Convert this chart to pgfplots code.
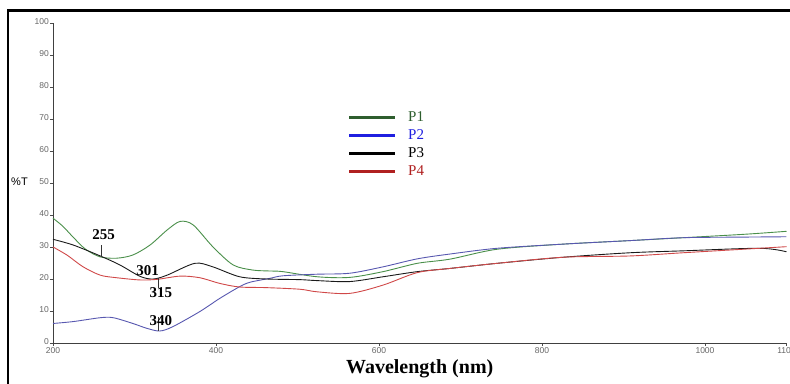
\documentclass[border=0pt]{standalone}
\usepackage{fontspec}
\setmainfont{Liberation Serif}
\newfontfamily\arialfont{Liberation Sans}
\usepackage{pgfplots}
\pgfplotsset{compat=1.18}
\definecolor{pone}{HTML}{4A8F4A}
\definecolor{ptwo}{HTML}{5858B0}
\definecolor{pthree}{HTML}{1A1A1A}
\definecolor{pfour}{HTML}{D04848}
\definecolor{lone}{HTML}{2E5E2E}
\definecolor{ltwo}{HTML}{1F1FE0}
\definecolor{lthree}{HTML}{000000}
\definecolor{lfour}{HTML}{B02020}
\begin{document}
\begin{tikzpicture}[x=1pt,y=1pt]
\useasboundingbox (0,0) rectangle (790,383);
\begin{axis}[
  at={(53pt,40pt)}, anchor=south west,
  scale only axis, width=733.5pt, height=320pt,
  xmin=200, xmax=1100, ymin=0, ymax=100,
  axis x line=bottom, axis y line=left,
  axis line style={-, draw=black!75, line width=0.8pt},
  xtick={200,400,600,800,1000,1100},
  ytick={0,10,...,100},
  tick align=outside, major tick length=3pt,
  tick style={draw=black!70, line width=0.6pt},
  /pgf/number format/assume math mode=true,
  /pgf/number format/1000 sep={},
  ticklabel style={font=\arialfont\fontsize{8.5}{9}\selectfont, text=black!60},
  yticklabel style={inner sep=1pt, yshift=1pt},
  xticklabel style={inner sep=1pt},
  xlabel={\bfseries Wavelength (nm)},
  xlabel style={font=\fontsize{20}{22}\selectfont, at={(axis description cs:0.5,-0.081)}, anchor=center},
  ylabel={\%T},
  ylabel style={font=\arialfont\fontsize{11}{12}\selectfont, rotate=-90, at={(axis description cs:-0.0457,0.503)}, anchor=center},
  clip=false,
  legend image code/.code={\draw[#1, line width=2.8pt] (0pt,0pt) -- (46pt,0pt); \path (57pt,0pt);},
  legend style={draw=none, fill=none, font=\fontsize{15}{17}\selectfont,
    at={(axis description cs:0.402,0.727)}, anchor=north west,
    row sep=3.5pt, inner sep=0pt, nodes={inner sep=1.5pt, anchor=west}},
  legend cell align=left,
]
\addlegendimage{lone}\addlegendentry{\textcolor{lone}{P1}}
\addlegendimage{ltwo}\addlegendentry{\textcolor{ltwo}{P2}}
\addlegendimage{lthree}\addlegendentry{\textcolor{lthree}{P3}}
\addlegendimage{lfour}\addlegendentry{\textcolor{lfour}{P4}}

\addplot[forget plot, pone, line width=0.9pt, smooth, tension=0.5] coordinates {
(200,39.0) (212,36.5) (225,33.0) (240,29.3) (258,26.9) (278,26.5) (298,27.5) (319,30.6)
(340,35.3) (356,38.0) (372,36.9) (396,30.1) (421,24.4) (445,22.8) (466,22.5)
(482,22.3) (524,20.7) (564,20.5) (605,22.3) (647,24.9) (687,26.2) (745,29.3)
(826,30.9) (908,32.0) (973,32.9) (1050,34.0) (1100,34.9)};

\addplot[forget plot, ptwo, line width=0.9pt, smooth, tension=0.5] coordinates {
(200,6.1) (225,6.7) (258,7.9) (274,7.9) (298,6.1) (315,4.6) (331,3.75)
(347,5.1) (380,9.8) (405,14.0) (429,17.6) (442,19.0) (466,20.2) (482,21.0)
(524,21.5) (564,21.8) (605,23.8) (647,26.3) (687,27.8) (745,29.6) (826,30.9)
(908,32.0) (973,32.9) (1050,33.1) (1100,33.2)};

\addplot[forget plot, pthree, line width=0.9pt, smooth, tension=0.5] coordinates {
(200,32.4) (225,30.6) (258,27.2) (282,24.4) (307,20.8) (323,20.0) (340,21.2)
(374,24.9) (396,23.8) (429,20.7) (462,20.0) (503,19.8) (524,19.5) (564,19.2)
(605,20.7) (647,22.3) (687,23.3) (745,24.9) (826,26.8) (908,28.2) (973,28.8)
(1067,29.6) (1100,28.5)};

\addplot[forget plot, pfour, line width=0.9pt, smooth, tension=0.5] coordinates {
(200,30.0) (217,27.5) (237,23.8) (258,21.2) (278,20.4) (307,19.7) (328,19.9)
(356,20.9) (380,20.4) (405,18.6) (429,17.5) (462,17.3) (503,16.8) (524,16.0)
(564,15.5) (605,18.1) (647,22.0) (687,23.3) (745,24.9) (826,26.8) (908,27.2)
(973,28.2) (1067,29.6) (1100,30.1)};

\draw[black!80, line width=0.8pt] (axis cs:260,30.6) -- (axis cs:260,26.9);
\draw[black!80, line width=0.8pt] (axis cs:329,20.3) -- (axis cs:329,17.2);
\draw[black!80, line width=0.8pt] (axis cs:329,8.2) -- (axis cs:329,3.75);
\node[font=\bfseries\fontsize{15}{16}\selectfont, inner sep=0pt] at (axis cs:262,33.9) {255};
\node[font=\bfseries\fontsize{15}{16}\selectfont, inner sep=0pt] at (axis cs:316,22.7) {301};
\node[font=\bfseries\fontsize{15}{16}\selectfont, inner sep=0pt] at (axis cs:332.5,15.9) {315};
\node[font=\bfseries\fontsize{15}{16}\selectfont, inner sep=0pt] at (axis cs:332.5,7.0) {340};
\end{axis}
\draw[black, line width=2.6pt] (8,-20) -- (8,372.7) -- (810,372.7);
\end{tikzpicture}
\end{document}
